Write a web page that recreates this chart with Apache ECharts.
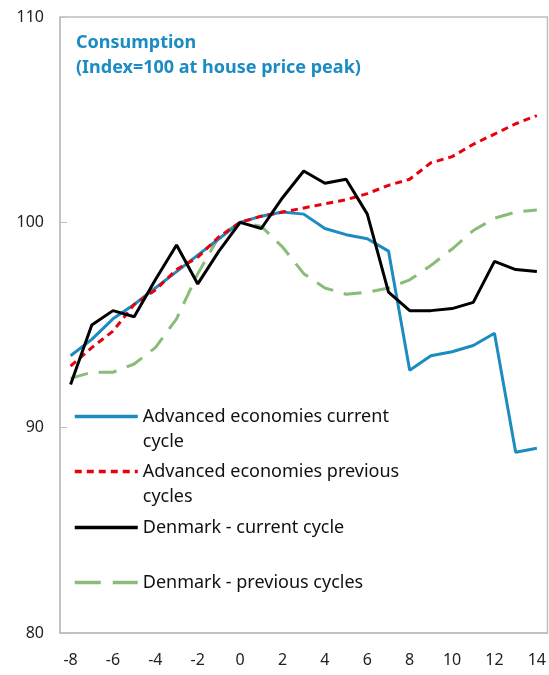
<!DOCTYPE html>
<html>
<head>
<meta charset="utf-8">
<script src="https://cdn.jsdelivr.net/npm/echarts@6/dist/echarts.min.js"></script>
<style>
  html, body { margin: 0; padding: 0; background: #fff; }
  #chart { width: 549px; height: 675px; }
</style>
</head>
<body>
<div id="chart"></div>
<script>
// quarters relative to house price peak
const quarters = ["-8","-7","-6","-5","-4","-3","-2","-1","0","1","2","3","4","5","6","7","8","9","10","11","12","13","14"];

const advCurrent = [93.5, 94.3, 95.3, 96.0, 96.8, 97.6, 98.4, 99.2, 100, 100.3, 100.5, 100.4, 99.7, 99.4, 99.2, 98.6, 92.8, 93.5, 93.7, 94.0, 94.6, 88.8, 89.0];
const advPrevious = [93.0, 93.9, 94.7, 96.0, 96.7, 97.7, 98.3, 99.3, 100, 100.3, 100.5, 100.7, 100.9, 101.1, 101.4, 101.8, 102.1, 102.9, 103.2, 103.8, 104.3, 104.8, 105.2];
const dkCurrent = [92.1, 95.0, 95.7, 95.4, 97.2, 98.9, 97.0, 98.6, 100, 99.7, 101.2, 102.5, 101.9, 102.1, 100.4, 96.6, 95.7, 95.7, 95.8, 96.1, 98.1, 97.7, 97.6];
const dkPrevious = [92.4, 92.7, 92.7, 93.1, 93.9, 95.3, 97.5, 99.3, 100, 99.8, 98.8, 97.5, 96.8, 96.5, 96.6, 96.8, 97.2, 97.9, 98.7, 99.6, 100.2, 100.5, 100.6];

const names = [
  "Advanced economies current\ncycle",
  "Advanced economies previous\ncycles",
  "Denmark - current cycle",
  "Denmark - previous cycles"
];

const font = "'Noto Sans', sans-serif";

let myChart = echarts.init(document.getElementById("chart"));

function legendAt(name, top, dash) {
  let wrapped = name.indexOf("\n") >= 0;
  let lineStyle = { width: 3.5 };
  if (dash) lineStyle.type = dash;
  return {
    data: [name],
    left: 68,
    top: top,
    itemWidth: 63,
    itemHeight: 12,
    itemGap: 0,
    selectedMode: false,
    // blank first line so the line sample sits beside the first text line
    formatter: (n) => (wrapped ? " \n" + n : n),
    // hide the symbol, keep only the line
    itemStyle: { opacity: 0 },
    lineStyle: lineStyle,
    textStyle: {
      fontFamily: font,
      fontSize: 18,
      color: "#111",
      lineHeight: 25,
    },
  };
}

myChart.setOption({
  animation: false,
  title: {
    text: "Consumption\n(Index=100 at house price peak)",
    left: 71,
    top: 25,
    textStyle: {
      fontFamily: font,
      fontSize: 18,
      fontWeight: "bold",
      color: "#1A8CC2",
      lineHeight: 25,
    },
  },
  grid: {
    left: 60,
    right: 1,
    top: 17,
    bottom: 42,
    show: true,
    borderColor: "#BFBFBF",
    borderWidth: 1.5,
  },
  legend: [
    legendAt(names[0], 374),
    legendAt(names[1], 429),
    legendAt(names[2], 510),
    legendAt(names[3], 565, [26, 12]),
  ],
  xAxis: {
    type: "category",
    data: quarters,
    boundaryGap: true,
    axisLine: { lineStyle: { color: "#BFBFBF", width: 1.5 } },
    axisTick: { inside: true, length: 6, interval: 0, lineStyle: { color: "#BFBFBF" } },
    axisLabel: {
      interval: 1,
      margin: 19,
      fontFamily: font,
      fontSize: 16,
      color: "#222",
    },
  },
  yAxis: {
    type: "value",
    min: 80,
    max: 110,
    interval: 10,
    axisLine: { show: true, lineStyle: { color: "#BFBFBF", width: 1.5 } },
    axisTick: { show: true, inside: true, length: 7, lineStyle: { color: "#BFBFBF" } },
    splitLine: { show: false },
    axisLabel: {
      margin: 16,
      fontFamily: font,
      fontSize: 16,
      color: "#222",
    },
  },
  series: [
    {
      name: names[0],
      type: "line",
      data: advCurrent,
      symbol: "none",
      z: 3,
      lineStyle: { color: "#1C8CC0", width: 3 },
      itemStyle: { color: "#1C8CC0" },
    },
    {
      name: names[1],
      type: "line",
      data: advPrevious,
      symbol: "none",
      z: 4,
      lineStyle: { color: "#E8000B", width: 3, type: [7, 5] },
      itemStyle: { color: "#E8000B" },
    },
    {
      name: names[2],
      type: "line",
      data: dkCurrent,
      symbol: "none",
      z: 5,
      lineStyle: { color: "#000", width: 3 },
      itemStyle: { color: "#000" },
    },
    {
      name: names[3],
      type: "line",
      data: dkPrevious,
      symbol: "none",
      z: 2,
      lineStyle: { color: "#88BC78", width: 3, type: [18, 11] },
      itemStyle: { color: "#88BC78" },
    },
  ],
});
</script>
</body>
</html>
